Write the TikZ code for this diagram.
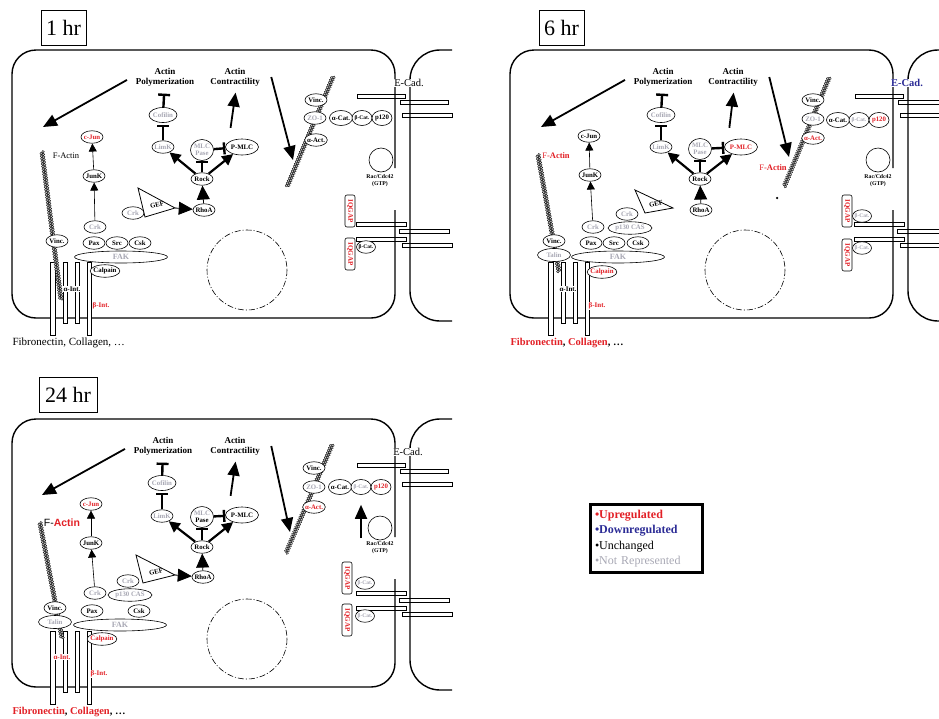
\documentclass[tikz,border=0pt]{standalone}
\usepackage{fontspec}
\setmainfont{Liberation Serif}
\newfontfamily\arialfont{Liberation Sans}
\usetikzlibrary{arrows.meta,shapes.geometric,decorations.markings}
\definecolor{upred}{RGB}{226,32,38}
\definecolor{downblue}{RGB}{44,44,150}
\definecolor{nrgray}{RGB}{168,168,180}
\newcommand{\molfont}{\fontsize{6.8}{7.2}\selectfont\bfseries}
\newcommand{\upreg}[1]{\textcolor{upred}{#1}}
\newcommand{\cellshell}{%
  \draw[cadbar] (357,94) rectangle (405,98);
  \draw[cadbar] (400,100) rectangle (448,104);
  \draw[cadbar] (402,113) rectangle (452,117);
  \draw[cadbar] (356,222) rectangle (406,226);
  \draw[cadbar] (399,229) rectangle (449,233);
  \draw[cadbar] (356,237) rectangle (406,241);
  \draw[cadbar] (402,243) rectangle (452,247);
  \draw[membrane] (395,168) -- (395,50) -- (12,50) -- (12,318) -- (395,318) -- (395,210);
  \draw[membrane, rounded corners=30pt] (452,50) -- (410,50) -- (410,321) -- (452,321);
  \draw[nucleus] (247,270) circle [radius=40];
  \draw[intbar] (50,262) rectangle (55,335);
  \draw[intbar] (63,262) rectangle (67,323);
  \draw[intbar] (75,262) rectangle (79,323);
  \draw[intbar] (87,262) rectangle (91,335);
}
\begin{document}
\begin{tikzpicture}
  [x=1pt, y=-1pt,
   mol/.style={draw, ellipse, fill=white, line width=0.6pt, inner xsep=-1pt, inner ysep=0pt,
     minimum width=22pt, minimum height=12.5pt, font=\molfont},
   molsm/.style={font=\fontsize{5.5}{6}\selectfont\bfseries},
   nr/.style={text=nrgray},
   upr/.style={text=upred},
   pasebox/.style={align=center, minimum width=23pt, minimum height=21pt},
   fakbox/.style={minimum width=93pt, minimum height=12pt, font=\fontsize{8}{8}\selectfont\bfseries},
   procbox/.style={font=\fontsize{9}{10}\selectfont\bfseries, align=center},
   raclab/.style={font=\fontsize{5.8}{7}\selectfont\bfseries, align=center},
   hrbox/.style={draw, line width=0.7pt, font=\fontsize{22}{22}\selectfont, minimum height=35pt, inner xsep=5pt},
   ecadlab/.style={fill=white, inner sep=0.5pt, font=\fontsize{10.5}{11}\selectfont},
   membrane/.style={line width=1.4pt, rounded corners=24pt},
   cadbar/.style={draw, fill=white, line width=0.6pt},
   intbar/.style={draw, fill=white, line width=0.6pt},
   nucleus/.style={line width=0.6pt, dash pattern=on 6pt off 2pt on 1pt off 2pt},
   filament/.style={decorate, decoration={markings,
     mark=between positions 0 and 1 step 2.6pt with {\filldraw[fill=gray!45, line width=0.35pt] (0,1pt) circle (1.4pt);},
     mark=between positions 0.01 and 1 step 2.6pt with {\filldraw[fill=gray!45, line width=0.35pt] (0,-1pt) circle (1.4pt);}}},
   gefshape/.style={draw, fill=white, line width=0.8pt},
   iq/.style={draw, fill=white, rounded corners=2pt, rotate=-90, text=upred, line width=0.6pt,
     font=\fontsize{7}{7}\selectfont\bfseries, inner sep=1pt, minimum width=32pt, minimum height=10pt},
   intlabel/.style={fill=white, inner sep=0.5pt, font=\fontsize{7}{7}\selectfont\bfseries},
   bigarrow/.style={line width=1.8pt, -{Triangle[length=14pt, width=12pt]}},
   fatarrow/.style={line width=2.2pt, -{Triangle[length=11pt, width=11pt]}},
   bighead/.style={line width=0.8pt, -{Triangle[length=14pt, width=13pt]}},
   thinarrow/.style={line width=0.6pt, -{Triangle[length=8pt, width=8pt]}},
   inhib/.style={line width=2.4pt, -{Bar[width=12pt]}}]
  \useasboundingbox (0,0) rectangle (939,718);

  \begin{scope}[name prefix=a-]
  \cellshell
  \path[filament] (42,152) -- (61,300);
  \path[filament] (333,77) -- (287,187);
  \node[hrbox] (hr) at (63.5,27.5) {1 hr};
  \node[procbox] (poly) at (165,77) {Actin\\Polymerization};
  \node[procbox] (contr) at (235,77) {Actin\\Contractility};
  \node[mol, nr, minimum width=28pt, minimum height=15pt] (cof) at (163,115) {Cofilin};
  \node[mol, nr] (limk) at (163,147) {LimK};
  \node[mol, nr, pasebox] (mlcp) at (202,150) {MLC\\Pase};
  \node[mol, minimum width=33pt, minimum height=16pt] (pmlc) at (242,147) {P-MLC};
  \node[mol] (rock) at (202,179) {Rock};
  \node[mol] (rhoa) at (204,210) {RhoA};
  \node[mol, upr] (cjun) at (92,137) {c-Jun};
  \node[mol] (junk) at (94,176) {JunK};
  \node[mol, nr] (crkb) at (133,213) {Crk};
  \node[mol, nr] (crka) at (95,227) {Crk};
  \node[mol, nr, fakbox] (fak) at (121,257) {FAK};
  \node[mol] (pax) at (94,243) {Pax};
  \node[mol] (src) at (117,243) {Src};
  \node[mol] (csk) at (140,243) {Csk};
  \node[mol] (calp) at (105,271) {Calpain};
  \node[mol] (vinc) at (57,241) {Vinc.};
  \node[font=\fontsize{8.5}{8.5}\selectfont] (fact) at (66,156) {F-Actin};
  \node[mol] (vincr) at (316,100) {Vinc.};
  \node[mol, nr] (zo) at (315,118) {ZO-1};
  \node[mol] (aact) at (316,140) {α-Act.};
  \node[mol, minimum height=15pt] (acat) at (341,118) {α-Cat.};
  \node[mol, molsm, minimum width=20pt, minimum height=15pt] (bcat) at (362,118) {β-Cat.};
  \node[mol, minimum width=20pt, minimum height=15pt] (p120) at (382,118) {p120};
  \node[draw, circle, line width=0.6pt, minimum size=24pt] (rac) at (381,160) {};
  \node[raclab] (raclab) at (380,181) {Rac/Cdc42\\(GTP)};
  \node[ecadlab] (ecad) at (409,83) {E-Cad.};
  \node[iq] (iqa) at (350,211) {IQGAP};
  \node[iq] (iqb) at (350,254) {IQGAP};
  \node[mol, molsm, minimum width=19pt] (bcatb) at (366,247) {β-Cat.};
  \coordinate (gefa) at (138,188);
  \coordinate (geft) at (175,208);
  \coordinate (gefc) at (145,217);
  \draw[gefshape] (gefa) -- (geft) -- (gefc) -- cycle;
  \node[font=\molfont, rotate=15] (gef) at (157,205) {GEF};
  \node[intlabel] (aint) at (72,289) {α-Int.};
  \node[intlabel, upr] (bint) at (101,306) {β-Int.};
  \node[anchor=west, font=\fontsize{11}{11}\selectfont] (ecm) at (9,343) {Fibronectin, Collagen, …};
  \coordinate (fa) at (43,127);
  \coordinate (fb) at (293,160);
  \draw[bigarrow, shorten <=6pt] (poly.west) -- (fa);
  \draw[bigarrow] ([xshift=8pt]contr.east) -- (fb);
  \draw[bigarrow, shorten <=11pt, shorten >=3pt] ([xshift=-13pt]pmlc.north) -- ([xshift=1pt]contr.south);
  \draw[inhib, shorten >=4pt] (cof) -- (poly);
  \draw[inhib, shorten >=2pt] (limk) -- (cof);
  \draw[inhib] (rock) -- (mlcp);
  \draw[inhib] (mlcp) -- (pmlc);
  \draw[fatarrow] (rock) -- (limk);
  \draw[fatarrow] (rock) -- (pmlc);
  \draw[bighead] (rhoa) -- (rock);
  \draw[bighead] (geft) -- (rhoa);
  \draw[thinarrow] (junk) -- (cjun);
  \draw[thinarrow] (crka) -- (junk);
  \end{scope}

  \begin{scope}[shift={(498,0)}, name prefix=b-]
  \cellshell
  \path[filament] (40,155) -- (61,272);
  \path[filament] (331,78) -- (286,187);
  \node[hrbox] (hr) at (63.5,27.5) {6 hr};
  \node[procbox] (poly) at (165,77) {Actin\\Polymerization};
  \node[procbox] (contr) at (235,77) {Actin\\Contractility};
  \node[mol, nr, minimum width=28pt, minimum height=15pt] (cof) at (163,115) {Cofilin};
  \node[mol, nr] (limk) at (163,147) {LimK};
  \node[mol, nr, pasebox] (mlcp) at (202,149) {MLC\\Pase};
  \node[mol, upr, minimum width=33pt, minimum height=16pt] (pmlc) at (243,147) {P-MLC};
  \node[mol] (rock) at (202,179) {Rock};
  \node[mol] (rhoa) at (203,210) {RhoA};
  \node[mol] (cjun) at (91,136) {c-Jun};
  \node[mol] (junk) at (92,175) {JunK};
  \node[mol, nr] (crkb) at (129,214) {Crk};
  \node[mol, nr, minimum width=44pt] (cas) at (132,228) {p130 CAS};
  \node[mol, nr] (crka) at (95,227) {Crk};
  \node[mol, nr, fakbox] (fak) at (120,257) {FAK};
  \node[mol] (pax) at (93,243) {Pax};
  \node[mol] (src) at (116,243) {Src};
  \node[mol] (csk) at (140,243) {Csk};
  \node[mol, upr] (calp) at (104,272) {Calpain};
  \node[mol, nr, minimum width=33pt, minimum height=13pt] (talin) at (56,255) {Talin};
  \node[mol] (vinc) at (56,241) {Vinc.};
  \node[font=\fontsize{8.5}{8.5}\selectfont, text=upred] (fact) at (58,156) {F-\textbf{Actin}};
  \node[mol] (vincr) at (315,100) {Vinc.};
  \node[mol, nr] (zo) at (315,119) {ZO-1};
  \node[mol, upr] (aact) at (315,138) {α-Act.};
  \node[mol, minimum height=15pt] (acat) at (340,120) {α-Cat.};
  \node[mol, nr, molsm, minimum width=20pt, minimum height=15pt] (bcat) at (361,120) {β-Cat.};
  \node[mol, upr, minimum width=20pt, minimum height=15pt] (p120) at (381,120) {p120};
  \node[font=\fontsize{8.5}{8.5}\selectfont, text=upred] (factr) at (275,168) {F-\textbf{Actin}};
  \node[circle, fill, inner sep=0pt, minimum size=2.5pt] (dot) at (279,198) {};
  \node[draw, circle, line width=0.6pt, minimum size=24pt] (rac) at (380,160) {};
  \node[raclab] (raclab) at (380,181) {Rac/Cdc42\\(GTP)};
  \node[ecadlab, text=downblue, font=\fontsize{10.5}{11}\selectfont\bfseries] (ecad) at (409,83) {E-Cad.};
  \node[iq] (iqa) at (349,211) {IQGAP};
  \node[iq] (iqb) at (349,255) {IQGAP};
  \node[mol, nr, molsm, minimum width=19pt] (bcatb) at (364,216) {β-Cat.};
  \node[mol, nr, molsm, minimum width=19pt] (bcatc) at (364,248) {β-Cat.};
  \coordinate (gefa) at (137,190);
  \coordinate (geft) at (175,208);
  \coordinate (gefc) at (147,213);
  \draw[gefshape] (gefa) -- (geft) -- (gefc) -- cycle;
  \node[font=\molfont, rotate=15] (gef) at (158,204) {GEF};
  \node[intlabel] (aint) at (70,289) {α-Int.};
  \node[intlabel, upr] (bint) at (99,306) {β-Int.};
  \node[anchor=west, font=\fontsize{10.5}{11}\selectfont\bfseries] (ecm) at (9,343) {\upreg{Fibronectin}, \upreg{Collagen}, …};
  \coordinate (fa) at (43,127);
  \coordinate (fb) at (291,157);
  \draw[bigarrow, shorten <=6pt] (poly.west) -- (fa);
  \draw[bigarrow] ([xshift=8pt]contr.east) -- (fb);
  \draw[bigarrow, shorten <=11pt, shorten >=3pt] ([xshift=-13pt]pmlc.north) -- ([xshift=1pt]contr.south);
  \draw[inhib, shorten >=4pt] (cof) -- (poly);
  \draw[inhib, shorten >=2pt] (limk) -- (cof);
  \draw[inhib] (rock) -- (mlcp);
  \draw[inhib] (mlcp) -- (pmlc);
  \draw[fatarrow] (rock) -- (limk);
  \draw[fatarrow] (rock) -- (pmlc);
  \draw[bighead] (rhoa) -- (rock);
  \draw[thinarrow] (junk) -- (cjun);
  \draw[thinarrow] (crka) -- (junk);
  \end{scope}

  \begin{scope}[shift={(0,369)}, name prefix=c-]
  \cellshell
  \path[filament] (40,154) -- (62,269);
  \path[filament] (332,76) -- (286,184);
  \node[hrbox, inner xsep=6pt] (hr) at (68,26) {24 hr};
  \node[procbox] (poly) at (163,77) {Actin\\Polymerization};
  \node[procbox] (contr) at (235,77) {Actin\\Contractility};
  \node[mol, nr, minimum width=28pt, minimum height=15pt] (cof) at (162,114) {Cofilin};
  \node[mol, nr] (limk) at (162,147) {LimK};
  \node[mol, pasebox] (mlcp) at (202,148) {\textcolor{nrgray}{MLC}\\Pase};
  \node[mol, minimum width=33pt, minimum height=16pt] (pmlc) at (242,146) {P-MLC};
  \node[mol] (rock) at (202,178) {Rock};
  \node[mol] (rhoa) at (203,208) {RhoA};
  \node[mol, upr] (cjun) at (91,135) {c-Jun};
  \node[mol] (junk) at (91,174) {JunK};
  \node[mol, nr] (crkb) at (128,212) {Crk};
  \node[mol, nr, minimum width=44pt] (cas) at (130,226) {p130 CAS};
  \node[mol, nr] (crka) at (95,224) {Crk};
  \node[mol, nr, fakbox] (fak) at (120,256) {FAK};
  \node[mol] (pax) at (92,242) {Pax};
  \node[mol] (csk) at (139,242) {Csk};
  \node[mol, upr] (calp) at (102,270) {Calpain};
  \node[mol, nr, minimum width=33pt, minimum height=13pt] (talin) at (55,253) {Talin};
  \node[mol] (vinc) at (55,239) {Vinc.};
  \node[font=\fontsize{10.5}{10.5}\selectfont\arialfont] (fact) at (62,154) {F-\textcolor{upred}{\bfseries Actin}};
  \node[mol] (vincr) at (314,99) {Vinc.};
  \node[mol, nr] (zo) at (314,118) {ZO-1};
  \node[mol, upr] (aact) at (314,138) {α-Act.};
  \node[mol, minimum height=15pt] (acat) at (340,118) {α-Cat.};
  \node[mol, nr, molsm, minimum width=20pt, minimum height=15pt] (bcat) at (361,118) {β-Cat.};
  \node[mol, upr, minimum width=20pt, minimum height=15pt] (p120) at (381,118) {p120};
  \node[draw, circle, line width=0.6pt, minimum size=24pt] (rac) at (380,159) {};
  \node[raclab] (raclab) at (380,179) {Rac/Cdc42\\(GTP)};
  \node[ecadlab] (ecad) at (408,83) {E-Cad.};
  \node[iq] (iqa) at (347,209) {IQGAP};
  \node[iq] (iqb) at (347,251) {IQGAP};
  \node[mol, nr, molsm, minimum width=19pt] (bcatb) at (365,214) {β-Cat.};
  \node[mol, nr, molsm, minimum width=19pt] (bcatc) at (365,247) {β-Cat.};
  \coordinate (gefa) at (136,186);
  \coordinate (geft) at (175,206);
  \coordinate (gefc) at (143,214);
  \draw[gefshape] (gefa) -- (geft) -- (gefc) -- cycle;
  \node[font=\molfont, rotate=15] (gef) at (156,203) {GEF};
  \node[intlabel, upr] (aint) at (62,288) {α-Int.};
  \node[intlabel, upr] (bint) at (99,305) {β-Int.};
  \node[anchor=west, font=\fontsize{10.5}{11}\selectfont\bfseries] (ecm) at (9,343) {\upreg{Fibronectin}, \upreg{Collagen}, …};
  \coordinate (fa) at (42,126);
  \coordinate (fb) at (290,163);
  \coordinate (upb) at (361,169);
  \draw[bigarrow, shorten <=6pt] (poly.west) -- (fa);
  \draw[bigarrow] ([xshift=8pt]contr.east) -- (fb);
  \draw[bigarrow, shorten <=11pt, shorten >=3pt] ([xshift=-13pt]pmlc.north) -- ([xshift=1pt]contr.south);
  \draw[bigarrow, shorten >=10pt] (upb) -- (bcat);
  \draw[inhib, shorten >=4pt] (cof) -- (poly);
  \draw[inhib, shorten >=2pt] (limk) -- (cof);
  \draw[inhib] (rock) -- (mlcp);
  \draw[inhib] (mlcp) -- (pmlc);
  \draw[fatarrow] (rock) -- (limk);
  \draw[fatarrow] (rock) -- (pmlc);
  \draw[bighead] (rhoa) -- (rock);
  \draw[bighead] (geft) -- (rhoa);
  \draw[thinarrow] (junk) -- (cjun);
  \draw[thinarrow] (crka) -- (junk);
  \end{scope}

  \node[draw, line width=1.8pt, align=left, text width=103pt, inner xsep=5pt, minimum height=69pt,
    font=\fontsize{12}{15.3}\selectfont] (key) at (646.5,538.5)
    {\textcolor{upred}{\bfseries •Upregulated}\\
     \textcolor{downblue}{\bfseries •Downregulated}\\
     •Unchanged\\
     \textcolor{nrgray}{•Not Represented}};
  \draw[line width=0.5pt] ([shift={(2.5,2.5)}]key.north west) rectangle ([shift={(-2.5,-2.5)}]key.south east);
\end{tikzpicture}
\end{document}
